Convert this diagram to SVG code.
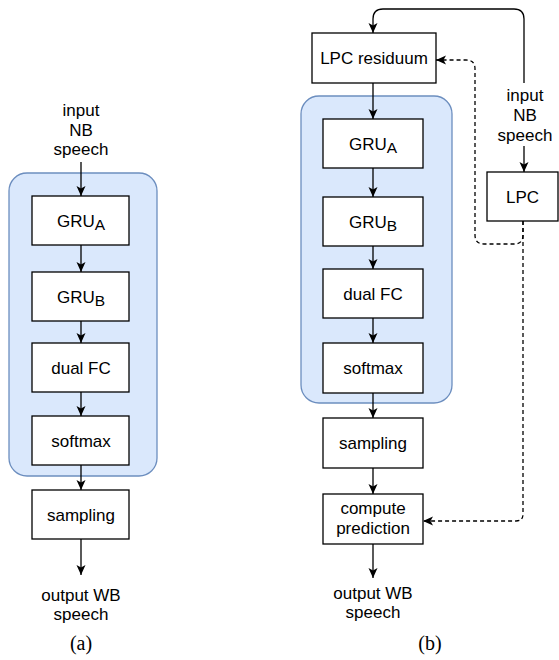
<svg xmlns="http://www.w3.org/2000/svg" width="559" height="660" viewBox="0 0 559 660">
<style>
.box{fill:#fff;stroke:#000;stroke-width:1.3}
.grp{fill:#dae8fc;stroke:#6c8ebf;stroke-width:1.3}
.t{font-family:"Liberation Sans",Arial,sans-serif;font-size:17px;fill:#000;text-anchor:middle}
.sub{font-size:15.5px}
.cap{font-family:"Liberation Serif","Times New Roman",serif;font-size:20px;fill:#000;text-anchor:middle}
.e{fill:none;stroke:#000;stroke-width:1.3;marker-end:url(#ah)}
.d{stroke-dasharray:4 3}
</style>
<defs>
<marker id="ah" viewBox="0 0 10 10" refX="10" refY="5" markerWidth="10" markerHeight="10" markerUnits="userSpaceOnUse" orient="auto">
<path d="M10,5 L0,0.5 L2.5,5 L0,9.5 Z" fill="#000"/>
</marker>
</defs>
<rect x="0" y="0" width="559" height="660" fill="#fff"/>

<!-- panel a -->
<g id="a-group"><rect class="grp" x="9" y="173" width="148" height="303" rx="18"/></g>
<g id="a-input"><text class="t" x="81" y="116">input</text><text class="t" x="81" y="135.5">NB</text><text class="t" x="81" y="155">speech</text></g>
<g id="a-grua"><rect class="box" x="32" y="196" width="97" height="49"/><text class="t" x="81" y="226.5">GRU<tspan class="sub" dy="3">A</tspan></text></g>
<g id="a-grub"><rect class="box" x="32" y="272" width="97" height="49"/><text class="t" x="81" y="302.5">GRU<tspan class="sub" dy="3">B</tspan></text></g>
<g id="a-fc"><rect class="box" x="32" y="343" width="97" height="49"/><text class="t" x="81" y="373.5">dual FC</text></g>
<g id="a-softmax"><rect class="box" x="32" y="416" width="97" height="49"/><text class="t" x="81" y="446.5">softmax</text></g>
<g id="a-sampling"><rect class="box" x="32" y="490" width="97" height="49"/><text class="t" x="81" y="520.5">sampling</text></g>
<g id="a-output"><text class="t" x="81" y="601">output WB</text><text class="t" x="81" y="620">speech</text></g>
<text class="cap" x="81" y="650">(a)</text>

<!-- panel b -->
<g id="b-group"><rect class="grp" x="301" y="96" width="151" height="307" rx="18"/></g>
<g id="b-residuum"><rect class="box" x="312" y="33" width="124" height="50"/><text class="t" x="374" y="64">LPC residuum</text></g>
<g id="b-input"><text class="t" x="525" y="101">input</text><text class="t" x="525" y="121">NB</text><text class="t" x="525" y="141">speech</text></g>
<g id="b-lpc"><rect class="box" x="487" y="172" width="71" height="49"/><text class="t" x="522.5" y="202.5">LPC</text></g>
<g id="b-grua"><rect class="box" x="323" y="119" width="100" height="49"/><text class="t" x="373" y="149.5">GRU<tspan class="sub" dy="3">A</tspan></text></g>
<g id="b-grub"><rect class="box" x="323" y="197" width="100" height="49"/><text class="t" x="373" y="227.5">GRU<tspan class="sub" dy="3">B</tspan></text></g>
<g id="b-fc"><rect class="box" x="323" y="269" width="100" height="49"/><text class="t" x="373" y="299.5">dual FC</text></g>
<g id="b-softmax"><rect class="box" x="323" y="343" width="100" height="50"/><text class="t" x="373" y="374">softmax</text></g>
<g id="b-sampling"><rect class="box" x="323" y="418" width="100" height="50"/><text class="t" x="373" y="449">sampling</text></g>
<g id="b-compute"><rect class="box" x="323" y="494" width="100" height="50"/><text class="t" x="373" y="514">compute</text><text class="t" x="373" y="533.5">prediction</text></g>
<g id="b-output"><text class="t" x="373" y="599">output WB</text><text class="t" x="373" y="618">speech</text></g>
<text class="cap" x="430" y="650">(b)</text>

<g id="connectors">
<path class="e" d="M81,162 L81,196"/>
<path class="e" d="M81,245 L81,272"/>
<path class="e" d="M81,321 L81,343"/>
<path class="e" d="M81,392 L81,416"/>
<path class="e" d="M81,465 L81,490"/>
<path class="e" d="M81,539 L81,575"/>

<path class="e" d="M524,83 L524,19 Q524,9 514,9 L383,9 Q373,9 373,19 L373,33"/>
<path class="e" d="M524,146 L524,172"/>
<path class="e" d="M373,83 L373,119"/>
<path class="e" d="M373,168 L373,197"/>
<path class="e" d="M373,246 L373,269"/>
<path class="e" d="M373,318 L373,343"/>
<path class="e" d="M373,393 L373,418"/>
<path class="e" d="M373,468 L373,494"/>
<path class="e" d="M373,544 L373,578"/>
<path class="e d" d="M523,221 L523,235 Q523,244 514,244 L484,244 Q475,244 475,235 L475,69 Q475,60 466,60 L436,60"/>
<path class="e d" d="M523,221 L523,514 Q523,521 516,521 L423,521"/>
</g>
</svg>
